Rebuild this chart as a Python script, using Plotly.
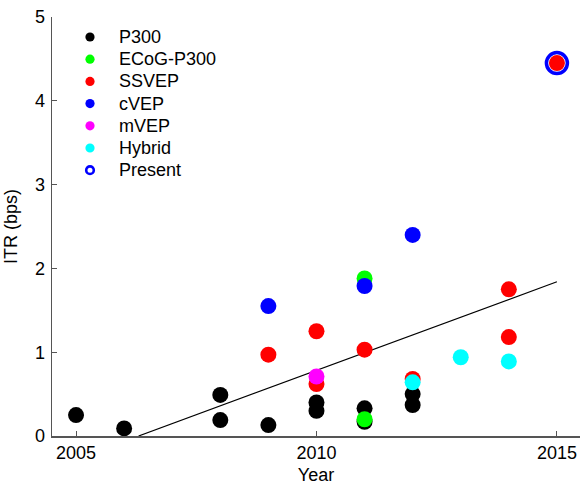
import plotly.graph_objects as go

# ---- data (year, ITR in bits per second) ----
p300_year = [2005, 2006, 2008, 2008, 2009, 2010, 2010, 2011, 2011, 2012, 2012]
p300_itr = [0.25, 0.09, 0.49, 0.19, 0.13, 0.40, 0.30, 0.33, 0.17, 0.50, 0.37]

ecog_year = [2011, 2011]
ecog_itr = [1.88, 0.20]

ssvep_year = [2009, 2010, 2010, 2011, 2012, 2014, 2014, 2015]
ssvep_itr = [0.97, 1.25, 0.62, 1.03, 0.68, 1.75, 1.18, 4.45]

cvep_year = [2009, 2011, 2012]
cvep_itr = [1.55, 1.79, 2.40]

mvep_year = [2010]
mvep_itr = [0.71]

hybrid_year = [2012, 2013, 2014]
hybrid_itr = [0.64, 0.94, 0.89]

present_year = [2015]
present_itr = [4.45]

fit_year = [2006.3, 2015]
fit_itr = [0.0, 1.84]

series_names = ["P300", "ECoG-P300", "SSVEP", "cVEP", "mVEP", "Hybrid"]
series_colors = ["#000000", "#00ff00", "#ff0000", "#0000ff", "#ff00ff", "#00ffff"]
series_x = [p300_year, ecog_year, ssvep_year, cvep_year, mvep_year, hybrid_year]
series_y = [p300_itr, ecog_itr, ssvep_itr, cvep_itr, mvep_itr, hybrid_itr]

FONT = "Liberation Sans, Arial, Helvetica, sans-serif"

fig = go.Figure()

# regression line
fig.add_trace(go.Scatter(x=fit_year, y=fit_itr, mode="lines",
                         line=dict(color="#000000", width=1.2),
                         showlegend=False, hoverinfo="skip"))

# present ring (drawn below its red dot)
fig.add_trace(go.Scatter(x=present_year, y=present_itr, mode="markers",
                         name="Present",
                         marker=dict(symbol="circle", size=21, color="white",
                                     line=dict(color="#0000ff", width=3.5)),
                         showlegend=False, cliponaxis=False))

for name, xs, ys, col in zip(series_names, series_x, series_y, series_colors):
    fig.add_trace(go.Scatter(x=xs, y=ys, mode="markers", name=name,
                             marker=dict(size=16, color=col, line=dict(width=0)),
                             showlegend=False, cliponaxis=False))

# ---- custom legend (layout only) ----
PLOT_L, PLOT_R, PLOT_T, PLOT_B = 52, 580, 17, 436
W, H = 580, 485


def px_to_paper_x(px):
    return (px - PLOT_L) / (PLOT_R - PLOT_L)


def px_to_paper_y(py):
    return (PLOT_B - py) / (PLOT_B - PLOT_T)


legend_names = series_names + ["Present"]
legend_colors = series_colors + ["#0000ff"]
for i, (name, col) in enumerate(zip(legend_names, legend_colors)):
    cy = px_to_paper_y(37 + 22.2 * i)
    mx = px_to_paper_x(90)
    if name == "Present":
        fig.add_shape(type="circle", xref="paper", yref="paper",
                      xsizemode="pixel", ysizemode="pixel",
                      xanchor=mx, yanchor=cy, x0=-3.8, x1=3.8, y0=-3.8, y1=3.8,
                      fillcolor="rgba(0,0,0,0)", line=dict(color=col, width=2.6))
    else:
        fig.add_shape(type="circle", xref="paper", yref="paper",
                      xsizemode="pixel", ysizemode="pixel",
                      xanchor=mx, yanchor=cy, x0=-4.6, x1=4.6, y0=-4.6, y1=4.6,
                      fillcolor=col, line=dict(width=0))
    fig.add_annotation(x=px_to_paper_x(117), y=cy, xref="paper", yref="paper",
                       text=name, showarrow=False, xanchor="left", yanchor="middle",
                       font=dict(size=18, family=FONT, color="#000000"))

fig.update_layout(
    width=W, height=H,
    margin=dict(l=PLOT_L, r=W - PLOT_R, t=PLOT_T, b=H - PLOT_B),
    paper_bgcolor="white", plot_bgcolor="white",
    font=dict(family=FONT, size=18, color="#000000"),
    hovermode=False,
    showlegend=False,
    xaxis=dict(range=[2004.5, 2015.48], tickvals=[2005, 2010, 2015],
               automargin=False,
               showgrid=False, zeroline=False, showline=True,
               linecolor="#555555", linewidth=1.5,
               ticks="inside", ticklen=5, tickcolor="#555555",
               tickfont=dict(size=18),
               title=dict(text="Year", font=dict(size=18), standoff=9)),
    yaxis=dict(range=[0, 5], tickvals=[0, 1, 2, 3, 4, 5],
               automargin=False,
               showgrid=False, zeroline=False, showline=True,
               linecolor="#555555", linewidth=1.5,
               ticks="inside", ticklen=5, tickcolor="#555555",
               tickfont=dict(size=18), ticklabelstandoff=2,
               title=dict(text="ITR (bps)", font=dict(size=18), standoff=12)),
)

fig.write_html("out.html",
               config={"displayModeBar": False, "staticPlot": True},
               post_script="document.body.style.margin='0';")
